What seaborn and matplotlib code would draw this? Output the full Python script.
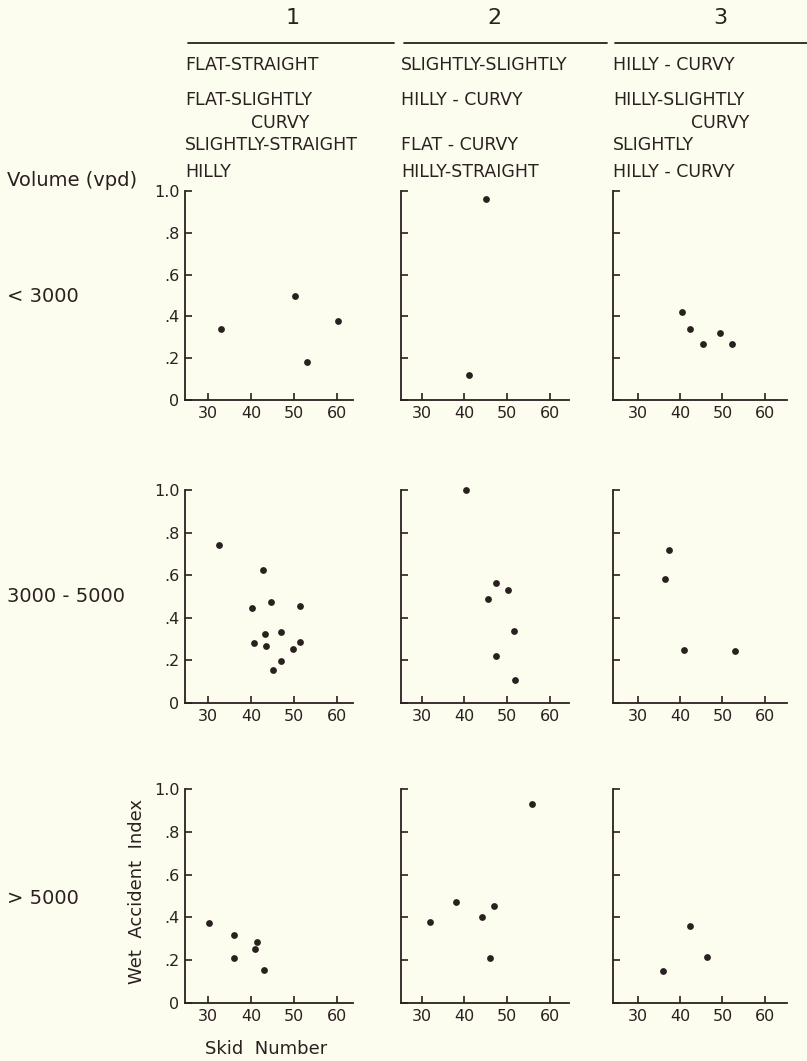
import pandas as pd
import seaborn as sns
from matplotlib import pyplot as plt
from matplotlib.lines import Line2D

# Skid number (x) and wet accident index (y) for each volume class / terrain group
lt3000_g1_skid = [33, 50.2, 52.9, 60.1]
lt3000_g1_wai = [0.34, 0.50, 0.18, 0.38]
lt3000_g2_skid = [45, 41]
lt3000_g2_wai = [0.96, 0.12]
lt3000_g3_skid = [40.5, 42.4, 45.5, 49.4, 52.2]
lt3000_g3_wai = [0.42, 0.34, 0.27, 0.32, 0.27]

mid_g1_skid = [32.6, 42.8, 40.1, 44.5, 51.4, 43.3, 46.9, 40.7, 43.5, 51.3, 49.8, 46.9, 45.1]
mid_g1_wai = [0.74, 0.625, 0.446, 0.474, 0.455, 0.324, 0.334, 0.282, 0.266, 0.285, 0.253, 0.199, 0.154]
mid_g2_skid = [40.5, 47.5, 50.3, 45.5, 51.6, 47.5, 51.8]
mid_g2_wai = [1.0, 0.564, 0.532, 0.488, 0.338, 0.22, 0.11]
mid_g3_skid = [36.5, 37.5, 41, 53.0]
mid_g3_wai = [0.58, 0.72, 0.25, 0.243]

gt5000_g1_skid = [30.3, 36.1, 36.1, 41.3, 40.8, 43.0]
gt5000_g1_wai = [0.375, 0.32, 0.21, 0.285, 0.252, 0.155]
gt5000_g2_skid = [32, 38, 44.2, 46.9, 46.1, 55.9]
gt5000_g2_wai = [0.38, 0.47, 0.403, 0.455, 0.208, 0.93]
gt5000_g3_skid = [36, 42.4, 46.4]
gt5000_g3_wai = [0.15, 0.36, 0.217]

volume_labels = ['< 3000', '3000 - 5000', '> 5000']
group_labels = ['1', '2', '3']
group_terrain = [
    ['FLAT-STRAIGHT', 'FLAT-SLIGHTLY', '', 'SLIGHTLY-STRAIGHT', 'HILLY'],
    ['SLIGHTLY-SLIGHTLY', 'HILLY - CURVY', '', 'FLAT - CURVY', 'HILLY-STRAIGHT'],
    ['HILLY - CURVY', 'HILLY-SLIGHTLY', '', 'SLIGHTLY', 'HILLY - CURVY'],
]
x_ticks = [30, 40, 50, 60]
y_ticks = [0, 0.2, 0.4, 0.6, 0.8, 1.0]
y_ticklabels = ['0', '.2', '.4', '.6', '.8', '1.0']

# tabla larga para seaborn
rows = []
panels = [
    (lt3000_g1_skid, lt3000_g1_wai), (lt3000_g2_skid, lt3000_g2_wai), (lt3000_g3_skid, lt3000_g3_wai),
    (mid_g1_skid, mid_g1_wai), (mid_g2_skid, mid_g2_wai), (mid_g3_skid, mid_g3_wai),
    (gt5000_g1_skid, gt5000_g1_wai), (gt5000_g2_skid, gt5000_g2_wai), (gt5000_g3_skid, gt5000_g3_wai),
]
for k, (xs, ys) in enumerate(panels):
    for x, y in zip(xs, ys):
        rows.append({'volume': volume_labels[k // 3], 'group': group_labels[k % 3], 'skid': x, 'wai': y})
df = pd.DataFrame(rows)

paper = '#fcfcef'
ink = '#2b2020'

sns.set_style('ticks', rc={'figure.facecolor': paper, 'axes.facecolor': paper,
                           'axes.edgecolor': ink, 'text.color': ink,
                           'xtick.color': ink, 'ytick.color': ink})
plt.rcParams['font.family'] = ['DejaVu Sans']

W, H = 807, 1061
fig = plt.figure(figsize=(W / 100, H / 100), dpi=100)

def fx(px):
    return px / W

def fy(py):
    return 1 - py / H

# posiciones de los paneles en pixeles (izq, der) y (arriba, abajo)
col_px = [(185, 353), (401, 569), (613, 787)]
row_px = [(191, 400), (490, 703), (789, 1003)]
col_xlim = [(24.7, 63.6), (25.2, 64.5), (24.2, 65.2)]

for r, vol in enumerate(volume_labels):
    for c, grp in enumerate(group_labels):
        l, rr = col_px[c]
        t, b = row_px[r]
        ax = fig.add_axes([fx(l), fy(b), (rr - l) / W, (b - t) / H])
        sub = df[(df['volume'] == vol) & (df['group'] == grp)]
        sns.scatterplot(data=sub, x='skid', y='wai', ax=ax, color=ink, s=24,
                        linewidth=0, legend=False, clip_on=False)
        ax.set_xlim(col_xlim[c])
        ax.set_ylim(0, 1.0)
        ax.set_xticks(x_ticks)
        ax.set_yticks(y_ticks)
        if c == 0:
            ax.set_yticklabels(y_ticklabels)
        else:
            ax.set_yticklabels([])
        ax.set_xlabel('')
        ax.set_ylabel('')
        ax.tick_params(direction='in', length=5, width=1.2, labelsize=11.5, pad=4)
        sns.despine(ax=ax)
        for s in ['left', 'bottom']:
            ax.spines[s].set_linewidth(1.3)

# encabezados de grupo
header_x = [293, 494, 720]
line_px = [(188, 394), (404, 607), (615, 807)]
text_y = [65, 100, 123, 145, 172]
for c in range(3):
    fig.text(fx(header_x[c]), fy(18), group_labels[c], ha='center', va='center', fontsize=16)
    fig.add_artist(Line2D([fx(line_px[c][0]), fx(line_px[c][1])], [fy(43), fy(43)],
                          color=ink, lw=1.3))
    for line, yy in zip(group_terrain[c], text_y):
        if line:
            fig.text(fx(col_px[c][0]), fy(yy), line, ha='left', va='center', fontsize=12.5)
# segunda linea de los textos partidos
fig.text(fx(251), fy(123), 'CURVY', ha='left', va='center', fontsize=12.5)
fig.text(fx(749), fy(123), 'CURVY', ha='right', va='center', fontsize=12.5)

# etiquetas de volumen
fig.text(fx(7), fy(181), 'Volume (vpd)', ha='left', va='center', fontsize=14)
vol_y = [297, 597, 898]
for lab, yy in zip(volume_labels, vol_y):
    fig.text(fx(7), fy(yy), lab, ha='left', va='center', fontsize=14)

fig.text(fx(137), fy(891), 'Wet  Accident  Index', rotation=90, ha='center', va='center', fontsize=13)
fig.text(fx(266), fy(1049), 'Skid  Number', ha='center', va='center', fontsize=13)

plt.savefig('out.png', dpi=100, facecolor=paper)
